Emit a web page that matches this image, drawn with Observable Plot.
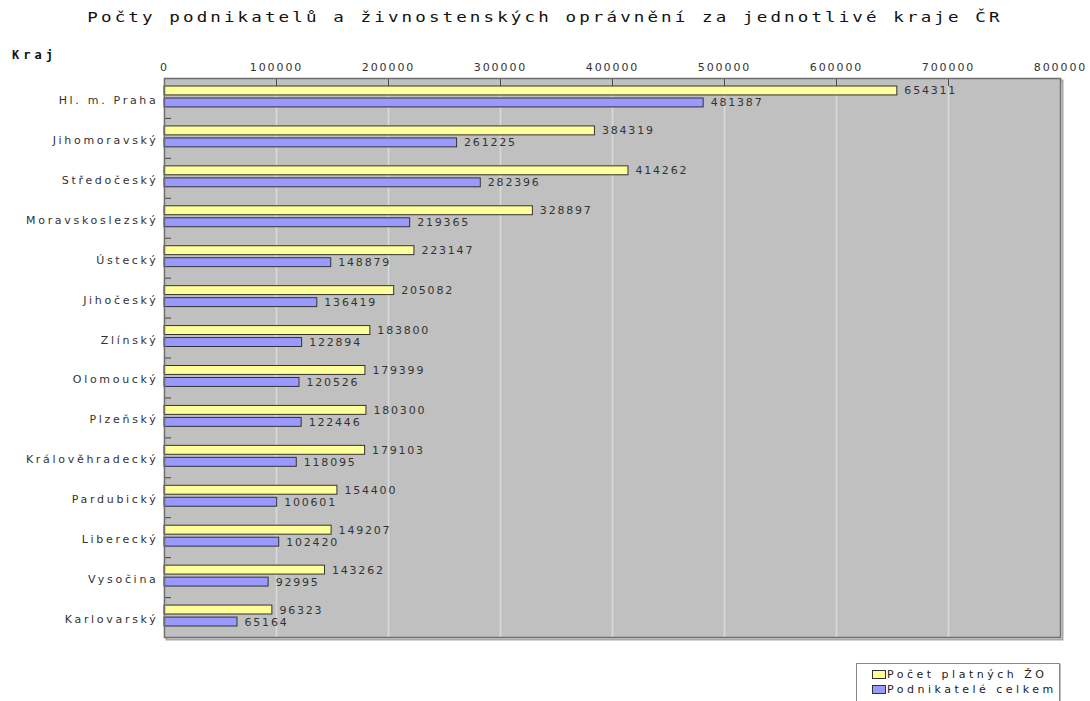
<!DOCTYPE html>
<html>
<head>
<meta charset="utf-8">
<script src="https://cdn.jsdelivr.net/npm/d3@7"></script>
<script src="https://cdn.jsdelivr.net/npm/@observablehq/plot@0.6"></script>
<style>
  html, body { margin: 0; padding: 0; background: #fff; overflow: hidden; }
  #wrap { position: relative; width: 1090px; height: 701px; }
  #title { position: absolute; left: 545px; top: 9px; white-space: nowrap;
    transform: translateX(-50%) scaleX(1.25); transform-origin: center;
    font-family: "DejaVu Sans Mono", monospace; font-size: 14px; letter-spacing: 2.5px; color: #111; }
  #kraj { position: absolute; left: 12px; top: 48px; font-family: "DejaVu Sans Mono", monospace;
    font-weight: bold; font-size: 12px; letter-spacing: 4px; color: #111; }
  #legend { position: absolute; left: 856px; top: 663px; width: 204px; height: 50px; background: #fff;
    border: 1px solid #888; box-shadow: 1px 1px 0 #bbb; font-family: "DejaVu Sans", sans-serif;
    font-size: 11px; letter-spacing: 3.5px; color: #222; padding-top: 3px; box-sizing: border-box; }
  #legend .row { height: 15px; line-height: 15px; white-space: nowrap; }
  #legend .sw { display: inline-block; width: 14px; height: 9px; border: 1px solid #333; margin-left: 15px;
    margin-right: 1px; vertical-align: -1px; box-sizing: border-box; }
  g[aria-label="y-axis tick label"] text { letter-spacing: 2.7px; }
  g[aria-label="x-axis tick label"] text { letter-spacing: 1.9px; }
  g[aria-label="text"] text { letter-spacing: 1.8px; }
</style>
</head>
<body>
<div id="wrap">
  <div id="title">Počty podnikatelů a živnostenských oprávnění za jednotlivé kraje ČR</div>
  <div id="kraj">Kraj</div>
  <div id="chart"></div>
  <div id="legend">
    <div class="row"><span class="sw" style="background:#ffff99"></span>Počet platných ŽO</div>
    <div class="row"><span class="sw" style="background:#9999ff"></span>Podnikatelé celkem</div>
  </div>
</div>
<script>
const regions = ["Hl. m. Praha","Jihomoravský","Středočeský","Moravskoslezský","Ústecký","Jihočeský","Zlínský","Olomoucký","Plzeňský","Králověhradecký","Pardubický","Liberecký","Vysočina","Karlovarský"];
const platnychZO = [654311,384319,414262,328897,223147,205082,183800,179399,180300,179103,154400,149207,143262,96323];
const podnikatele = [481387,261225,282396,219365,148879,136419,122894,120526,122446,118095,100601,102420,92995,65164];
const xTicks = [0,100000,200000,300000,400000,500000,600000,700000,800000];

const zoData = regions.map((r, i) => ({region: r, value: platnychZO[i]}));
const pData = regions.map((r, i) => ({region: r, value: podnikatele[i]}));

const W = 1090, H = 701, mT = 78, mB = 64, mL = 164, mR = 30;
const bw = (H - mT - mB) / regions.length;

const chart = Plot.plot({
  width: W, height: H,
  marginTop: mT, marginBottom: mB, marginLeft: mL, marginRight: mR,
  style: {fontFamily: "DejaVu Sans, sans-serif", fontSize: "11px", color: "#333", background: "transparent", overflow: "visible"},
  x: {domain: [0, 800000], axis: null},
  y: {domain: regions, padding: 0, round: false, axis: null},
  marks: [
    Plot.frame({stroke: "#a8a8a8", strokeWidth: 2, dx: 2, dy: 2}),
    Plot.frame({fill: "#c0c0c0"}),
    Plot.gridX(xTicks, {stroke: "#dadada", strokeOpacity: 1, strokeWidth: 1.5}),
    Plot.axisX(xTicks, {anchor: "top", tickSize: -7, text: null, stroke: "#444", label: null}),
    Plot.axisX(xTicks, {anchor: "top", tickSize: 0, tickPadding: 8, tickFormat: d => String(d), fill: "#333", label: null}),
    Plot.axisY({anchor: "left", tickSize: -7, text: null, stroke: "#444", dy: -bw / 2, label: null}),
    Plot.axisY({anchor: "left", tickSize: 0, tickPadding: 6, dy: 2, fill: "#333", label: null}),
    Plot.barX(zoData, {x: "value", y: "region", fill: "#ffff99", stroke: "#333", strokeWidth: 1, insetTop: 8, insetBottom: 23}),
    Plot.barX(pData, {x: "value", y: "region", fill: "#9999ff", stroke: "#333", strokeWidth: 1, insetTop: 20, insetBottom: 11}),
    Plot.text(zoData, {x: "value", y: "region", text: d => String(d.value), textAnchor: "start", dx: 7, dy: -7.5, fill: "#333"}),
    Plot.text(pData, {x: "value", y: "region", text: d => String(d.value), textAnchor: "start", dx: 7, dy: 4.5, fill: "#333"}),
    Plot.frame({stroke: "#6e6e6e", strokeWidth: 1.5})
  ]
});
document.getElementById("chart").appendChild(chart);
</script>
</body>
</html>
